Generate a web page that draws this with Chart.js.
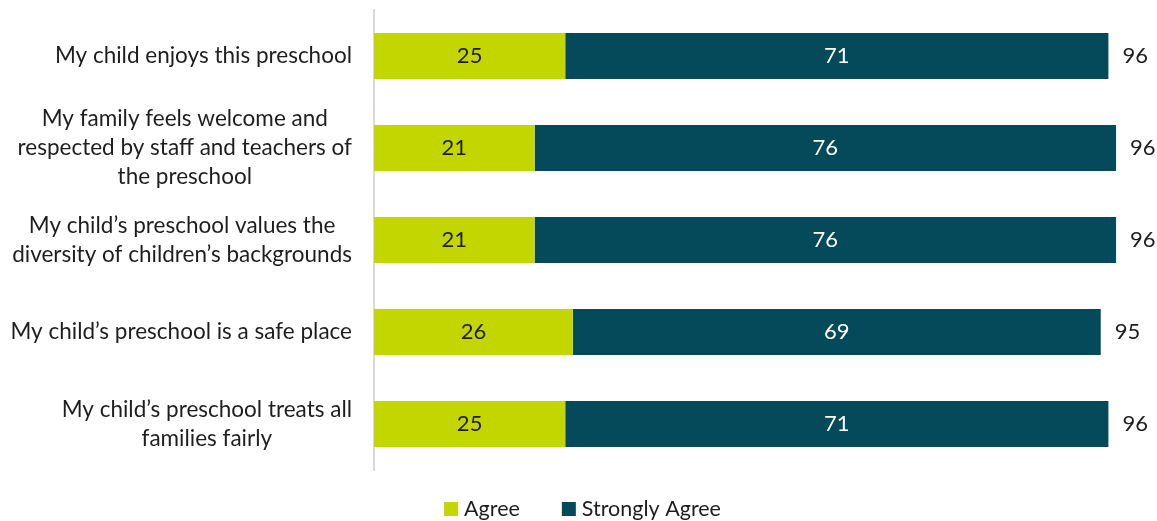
<!DOCTYPE html>
<html>
<head>
<meta charset="utf-8">
<script src="https://cdn.jsdelivr.net/npm/chart.js@4.4.1/dist/chart.umd.min.js"></script>
<style>
  body { margin: 0; background: #fff; }
  .chart-wrap { width: 1157px; height: 521px; position: relative; }
</style>
</head>
<body>
<div class="chart-wrap">
  <canvas id="surveyChart"></canvas>
</div>
<script>
const statements = [
  ["My child enjoys this preschool"],
  ["My family feels welcome and", "respected by staff and teachers of", "the preschool"],
  ["My child\u2019s preschool values the", "diversity of children\u2019s backgrounds"],
  ["My child\u2019s preschool is a safe place"],
  ["My child\u2019s preschool treats all", "families fairly"]
];
const agree = [25, 21, 21, 26, 25];
const stronglyAgree = [71, 76, 76, 69, 71];
const totals = [96, 96, 96, 95, 96];

const FONT = "Lato, 'Open Sans', sans-serif";
const LABEL_SIZE = 22.5;
const VALUE_SIZE = 22;
const LEGEND_SIZE = 21.5;
const TEXT = "#1e1e1e";
const LIME = "#c4d600";
const TEAL = "#054a5b";

// category labels: each block right-aligned, lines centred inside the block
const categoryLabels = {
  id: "categoryLabels",
  afterDraw(chart) {
    const ctx = chart.ctx;
    const y = chart.scales.y;
    const right = chart.chartArea.left - 22;
    const lineH = 29;
    ctx.save();
    ctx.font = LABEL_SIZE + "px " + FONT;
    ctx.fillStyle = TEXT;
    ctx.textAlign = "center";
    ctx.textBaseline = "middle";
    statements.forEach((lines, i) => {
      const w = Math.max(...lines.map(l => ctx.measureText(l).width));
      const cx = right - w / 2;
      const cy = y.getPixelForValue(i);
      const top = cy - (lines.length - 1) * lineH / 2;
      lines.forEach((l, j) => ctx.fillText(l, cx, top + j * lineH));
    });
    ctx.restore();
  }
};

// values inside the segments and totals after each bar
const barValues = {
  id: "barValues",
  afterDatasetsDraw(chart) {
    const ctx = chart.ctx;
    ctx.save();
    ctx.font = VALUE_SIZE + "px " + FONT;
    ctx.textBaseline = "middle";
    ctx.textAlign = "center";
    chart.data.datasets.forEach((ds, di) => {
      const meta = chart.getDatasetMeta(di);
      meta.data.forEach((bar, i) => {
        ctx.fillStyle = di === 0 ? TEXT : "#ffffff";
        ctx.fillText(ds.data[i], (bar.x + bar.base) / 2, bar.y);
      });
    });
    const last = chart.getDatasetMeta(chart.data.datasets.length - 1);
    ctx.textAlign = "left";
    ctx.fillStyle = TEXT;
    last.data.forEach((bar, i) => {
      ctx.fillText(totals[i], bar.x + 14, bar.y);
    });
    ctx.restore();
  }
};

// legend under the plot
const bottomLegend = {
  id: "bottomLegend",
  afterDraw(chart) {
    const ctx = chart.ctx;
    const box = 14, gapText = 6, gapItem = 42;
    ctx.save();
    ctx.font = LEGEND_SIZE + "px " + FONT;
    ctx.textBaseline = "middle";
    ctx.textAlign = "left";
    const items = chart.data.datasets.map(ds => ({ text: ds.label, color: ds.backgroundColor }));
    const widths = items.map(it => box + gapText + ctx.measureText(it.text).width);
    const total = widths.reduce((a, b) => a + b, 0) + gapItem * (items.length - 1);
    let x = chart.width / 2 + 4 - total / 2;
    const cy = 509;
    items.forEach((it, i) => {
      ctx.fillStyle = it.color;
      ctx.fillRect(x, cy - box / 2, box, box);
      ctx.fillStyle = TEXT;
      ctx.fillText(it.text, x + box + gapText, cy);
      x += widths[i] + gapItem;
    });
    ctx.restore();
  }
};

new Chart(document.getElementById("surveyChart"), {
  type: "bar",
  data: {
    labels: statements,
    datasets: [
      { label: "Agree", data: agree, backgroundColor: LIME },
      { label: "Strongly Agree", data: stronglyAgree, backgroundColor: TEAL }
    ]
  },
  options: {
    indexAxis: "y",
    responsive: true,
    maintainAspectRatio: false,
    animation: false,
    layout: { padding: { top: 10, right: 18, bottom: 51, left: 0 } },
    datasets: { bar: { barPercentage: 0.5, categoryPercentage: 1 } },
    scales: {
      x: { stacked: true, min: 0, max: 100, display: false },
      y: {
        stacked: true,
        grid: { display: false },
        ticks: { display: false },
        border: { display: true, color: "#d9d9d9", width: 2 },
        afterFit(scale) { scale.width = 374; }
      }
    },
    plugins: {
      legend: { display: false },
      tooltip: { enabled: false }
    }
  },
  plugins: [categoryLabels, barValues, bottomLegend]
});
</script>
</body>
</html>
